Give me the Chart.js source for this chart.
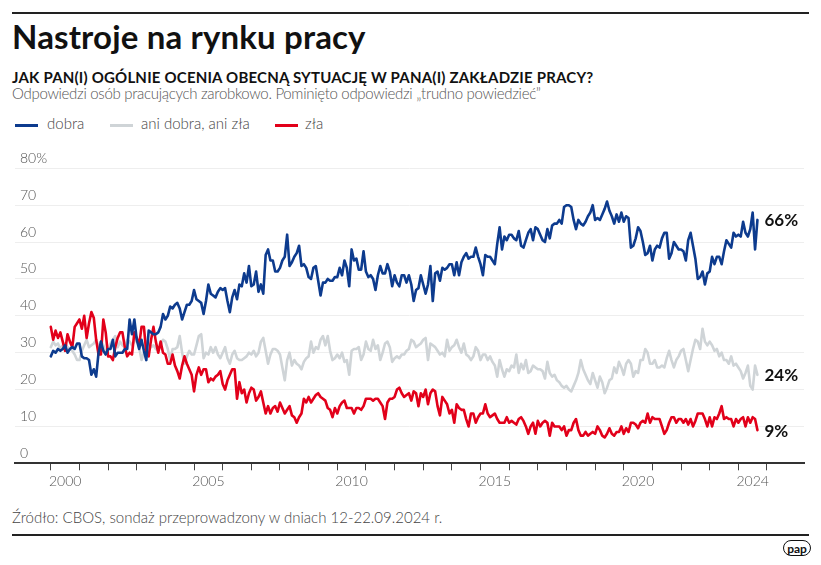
<!DOCTYPE html>
<html lang="pl">
<head>
<meta charset="utf-8">
<script src="https://cdn.jsdelivr.net/npm/chart.js@4.4.1/dist/chart.umd.min.js"></script>
<style>
body { margin:0; width:821px; height:565px; background:#fff; position:relative; overflow:hidden; font-family: Lato, "Noto Sans", sans-serif; color:#111; }
.abs { position:absolute; white-space:nowrap; line-height:1; }
.rule { position:absolute; left:12px; width:797px; height:2px; background:#222; }
#title { left:12px; top:20px; font-size:33px; font-weight:700; letter-spacing:0.15px; }
#subtitle { left:12px; top:70px; font-size:15px; font-weight:700; letter-spacing:0.2px; }
#desc { left:12px; top:86px; font-size:15px; font-weight:300; color:#555; letter-spacing:-0.3px; }
.leg { position:absolute; top:124px; width:23px; height:3px; }
.legtxt { top:116px; font-size:15px; font-weight:300; color:#444; }
#source { left:12px; top:510px; font-size:15px; font-weight:300; color:#444; }
#pap { position:absolute; left:783px; top:540px; width:28px; height:16px; border:1.5px solid #111; border-radius:9px; font:700 12px Lato, sans-serif; text-align:center; line-height:15px; box-sizing:border-box; }
#wrap { position:absolute; left:0; top:140px; width:821px; height:360px; }
</style>
</head>
<body>
<div class="rule" style="top:12px"></div>
<div id="title" class="abs">Nastroje na rynku pracy</div>
<div id="subtitle" class="abs">JAK PAN(I) OGÓLNIE OCENIA OBECNĄ SYTUACJĘ W PANA(I) ZAKŁADZIE PRACY?</div>
<div id="desc" class="abs">Odpowiedzi osób pracujących zarobkowo. Pominięto odpowiedzi „trudno powiedzieć”</div>
<div class="leg" style="left:15px;background:#0d3b8e"></div>
<div class="abs legtxt" style="left:47px">dobra</div>
<div class="leg" style="left:110px;background:#cfd4d7"></div>
<div class="abs legtxt" style="left:141px">ani dobra, ani zła</div>
<div class="leg" style="left:275px;background:#e2001a"></div>
<div class="abs legtxt" style="left:305px">zła</div>
<div id="wrap"><canvas id="chart" width="821" height="360"></canvas></div>
<div id="source" class="abs">Źródło: CBOS, sondaż przeprowadzony w dniach 12-22.09.2024 r.</div>
<div class="rule" style="top:534px"></div>
<div id="pap">pap</div>
<script>
// monthly CBOS readings, Jan 2000 .. Sep 2024
const startYear = 2000;

const dobra = [
  29, 30.5, 30, 31, 30.5, 31, 32, 30, 31, 31.5, 31, 32.5,
  32.5, 29, 28.5, 28.5, 28, 24, 25.5, 23.5, 30, 33, 30.5, 29.5,
  31, 31, 33.5, 29, 30, 30, 30, 31, 31, 39, 35, 39,
  33.5, 31, 33.5, 30.5, 28, 36, 35.5, 35, 35, 35.5, 37, 40.5,
  39, 40, 42.5, 42, 43, 43.5, 42, 39, 41, 43, 43, 44,
  47, 44.5, 44, 43.5, 40.5, 44, 48.5, 46, 45.5, 45, 46.5, 47.5,
  47, 47.5, 44, 41, 45, 47, 44.5, 48.5, 48, 51.5, 49, 53.5,
  48, 48.5, 52, 46.5, 48.5, 46, 56.5, 58, 55, 55, 52, 52,
  53, 55, 56, 62, 53.5, 54.5, 56, 57, 59, 53.5, 54, 53,
  50.5, 50, 53, 53.5, 49.5, 45.5, 49, 49, 50, 49.5, 49.5, 50.5,
  50.5, 53, 51, 55, 53, 48, 58, 55, 55.5, 52.5, 52.5, 57.5,
  52, 50.5, 51, 50, 47, 51, 53.5, 51.5, 51.5, 54, 52, 48,
  51, 49, 48, 51, 51, 49, 51, 48.5, 44, 47, 47.5, 51,
  48.5, 46, 48.5, 53.5, 44, 51.5, 52, 49.5, 53, 52.5, 53, 54,
  54, 51, 54.5, 51, 54.5, 56, 57, 55.5, 56, 56, 58.5, 56,
  54, 51, 56.5, 56, 56, 55, 54, 59.5, 64, 58, 61.5, 60.5,
  62, 62, 61, 60.5, 63, 59, 58.5, 60.5, 62.5, 63.5, 60.5, 64,
  63.5, 62, 60.5, 60, 63.5, 61, 64.5, 65, 65, 66, 65, 69.5,
  70, 70, 69.5, 66, 63.5, 66, 65, 64.5, 65.5, 67, 68, 70,
  66, 66.5, 66, 67.5, 69, 71, 68.5, 67, 65, 67.5, 65.5, 68,
  65.5, 67, 66.5, 58.5, 59, 61, 64, 63, 60, 56.5, 57, 59,
  55, 58, 59, 58.5, 61, 62.5, 62.5, 55.5, 57, 60, 59, 58,
  58, 57.5, 55, 60.5, 62.5, 59, 55.5, 50, 50.5, 52, 48.5, 51.5,
  52, 56, 54, 56, 56, 54, 57.5, 60.5, 59.5, 58.5, 62.5, 61.5,
  62, 61.5, 65.5, 62.5, 61.5, 63.5, 68, 58, 66
];

const aniDobraAniZla = [
  31.5, 33, 32, 32.5, 31, 32, 32.5, 31.5, 31, 30.5, 29.5, 28,
  28, 30.5, 32, 33.5, 31.5, 32, 32.5, 33.5, 31.5, 33, 32, 30,
  31, 32.5, 33.5, 34.5, 31.5, 33, 32, 31.5, 33.5, 33, 32, 33,
  33.5, 31.5, 28, 30, 33, 32.5, 31.5, 32, 31, 30.5, 32, 33.5,
  33, 31, 28, 31, 31, 31.5, 34.5, 30, 27, 29, 30.5, 29.5,
  29.5, 32, 34.5, 35, 28.5, 30, 29.5, 31.5, 30, 31.5, 29.5, 28.5,
  30, 31.5, 28.5, 27, 29.5, 30.5, 28.5, 28, 28, 28.5, 29, 30,
  29.5, 30.5, 29, 30, 33, 34, 30.5, 27, 29.5, 31, 31, 30.5,
  29.5, 26, 22.5, 28, 30, 26.5, 28, 27, 26.5, 25.5, 27.5, 28.5,
  29, 33, 30, 31.5, 31, 33.5, 34.5, 32, 34.5, 30.5, 28, 28.5,
  29.5, 28.5, 30, 27.5, 28, 24, 30.5, 31, 31, 31.5, 28, 29.5,
  33, 31, 30.5, 33.5, 31, 32, 28, 30, 32.5, 33, 31.5, 27.5,
  28.5, 29, 28.5, 29.5, 29.5, 30.5, 31, 33.5, 33, 31.5, 32, 32.5,
  33.5, 34, 28, 32.5, 32, 31.5, 30.5, 29.5, 30, 29, 33.5, 30.5,
  31.5, 32, 33.5, 31.5, 30, 32.5, 29.5, 29, 28, 29, 31.5, 30.5,
  28, 29.5, 29.5, 28, 29, 27.5, 26.5, 23.5, 28, 25.5, 23.5, 25.5,
  25, 26.5, 26, 29.5, 24.5, 27, 25.5, 28, 24.5, 25, 26.5, 26,
  25.5, 25.5, 25, 23, 27.5, 24.5, 23.5, 24, 22.5, 22, 21, 20.5,
  21, 20, 19.5, 21, 22.5, 24.5, 28, 25.5, 24, 22.5, 21.5, 24.5,
  22.5, 20.5, 23.5, 22, 19, 20.5, 22.5, 23, 26, 24.5, 27.5, 26,
  24, 27, 28, 27, 23.5, 25, 24.5, 28, 28, 31, 30, 27,
  27, 28, 26, 26, 26.5, 26, 28.5, 30.5, 28, 26, 28, 29,
  30.5, 31, 28, 25, 28, 31, 33.5, 33, 31, 36.5, 33, 32,
  33, 32, 30.5, 31, 29, 30, 28, 28, 27, 29, 26.5, 27,
  26, 25, 23, 24.5, 26.5, 21, 20, 26.5, 24
];

const zla = [
  37, 33.5, 36, 34, 35.5, 33, 30.5, 35, 33, 31.5, 37, 38,
  39, 36.5, 40, 34, 38, 41, 39.5, 33.5, 29.5, 29.5, 39, 35.5,
  29, 29, 28, 31.5, 34, 35.5, 35.5, 31.5, 29, 30, 29.5, 35.5,
  34, 32, 37, 37, 30, 29, 33.5, 37, 33, 30, 33, 30,
  29.5, 27, 27, 29.5, 26.5, 25, 23, 26.5, 29, 27, 25.5, 24,
  19.5, 24, 26, 24, 25.5, 25.5, 22, 23, 22.5, 23.5, 24, 25,
  21.5, 20, 22.5, 24, 25.5, 25.5, 17.5, 22, 19, 20, 16.5, 19,
  20.5, 20, 17, 18, 19.5, 16.5, 13.5, 15.5, 13.5, 15, 15.5, 14,
  16.5, 15, 13.5, 14.5, 15.5, 13, 12.5, 11, 12.5, 13.5, 17.5, 16.5,
  18, 16.5, 17.5, 18.5, 19, 18, 17.5, 17, 15, 14.5, 12.5, 15,
  13.5, 15.5, 16.5, 17, 15, 15, 15, 13.5, 15, 15, 14.5, 15.5,
  17.5, 17.5, 17.5, 17, 17.5, 17.5, 16.5, 15.5, 12, 16.5, 17.5, 17.5,
  18, 20, 20.5, 19, 18, 18.5, 19, 17, 19.5, 19, 15.5, 19,
  18, 20, 16, 19, 20, 19.5, 15.5, 13, 18, 17, 16, 13.5,
  14.5, 11, 16, 15, 14.5, 14.5, 12, 10, 13.5, 13.5, 11, 12.5,
  13.5, 13.5, 16, 13.5, 12.5, 13, 13.5, 12, 11, 11, 11, 12.5,
  11, 11.5, 11, 10.5, 12, 12.5, 11.5, 10, 8, 10, 11, 8,
  11.5, 10, 11, 11.5, 11, 7.5, 11, 10, 10, 10, 9, 10,
  7.5, 9, 9, 11, 12, 9, 7.5, 7.5, 8.5, 7.5, 8, 8.5,
  8, 10, 9, 7.5, 7, 8, 9.5, 8, 7.5, 8.5, 8.5, 10,
  8, 9.5, 8.5, 11, 11, 10.5, 9.5, 11, 11.5, 11, 13.5, 11,
  12.5, 12, 12, 12, 10, 8, 9, 11, 12.5, 12.5, 11, 12,
  12, 11, 12, 10.5, 12, 10, 11.5, 13.5, 13.5, 13.5, 12, 10,
  12.5, 10, 12.5, 12, 13.5, 15.5, 12, 12.5, 12, 12, 10, 12,
  11, 12, 12.5, 10, 12.5, 11, 12.5, 12, 9
];

const seriesNames = ['dobra', 'zła', 'ani dobra, ani zła'];
const seriesColors = ['#0d3b8e', '#e2001a', '#cfd4d7'];
const yearLabels = [2000, 2005, 2010, 2015, 2020, 2024];
const yTicks = [0, 10, 20, 30, 40, 50, 60, 70, 80];

const fontFamily = 'Lato, "Noto Sans", sans-serif';

function toPoints(arr) {
  return arr.map((v, i) => ({ x: startYear + i / 12, y: v }));
}

// year captions sit in the middle of each year, between the tick marks
const yearCaptions = {
  id: 'yearCaptions',
  afterDraw(chart) {
    const ctx = chart.ctx;
    const xs = chart.scales.x;
    ctx.save();
    ctx.font = '300 14px ' + fontFamily;
    ctx.fillStyle = '#555';
    ctx.textAlign = 'center';
    ctx.textBaseline = 'middle';
    yearLabels.forEach(y => {
      ctx.fillText(String(y), xs.getPixelForValue(y + 0.5), chart.chartArea.bottom + 18);
    });
    ctx.restore();
  }
};

const endLabels = {
  id: 'endLabels',
  afterDatasetsDraw(chart) {
    const ctx = chart.ctx;
    ctx.save();
    ctx.font = '700 17px ' + fontFamily;
    ctx.fillStyle = '#111';
    ctx.textBaseline = 'middle';
    chart.data.datasets.forEach((ds, i) => {
      const meta = chart.getDatasetMeta(i);
      const pt = meta.data[meta.data.length - 1];
      const val = ds.data[ds.data.length - 1].y;
      ctx.fillText(Math.round(val) + '%', pt.x + 7, pt.y + 1);
    });
    ctx.restore();
  }
};

new Chart(document.getElementById('chart'), {
  type: 'line',
  data: {
    datasets: [
      { label: seriesNames[0], data: toPoints(dobra), borderColor: seriesColors[0] },
      { label: seriesNames[1], data: toPoints(zla), borderColor: seriesColors[1] },
      { label: seriesNames[2], data: toPoints(aniDobraAniZla), borderColor: seriesColors[2] }
    ]
  },
  options: {
    responsive: false,
    animation: false,
    devicePixelRatio: 1,
    layout: { padding: { left: 15, right: 17, top: 28.3, bottom: 0 } },
    elements: {
      line: { borderWidth: 2.6, tension: 0, borderJoinStyle: 'round', borderCapStyle: 'round' },
      point: { radius: 0, hoverRadius: 0 }
    },
    plugins: { legend: { display: false }, tooltip: { enabled: false } },
    scales: {
      x: {
        type: 'linear',
        min: startYear - 15 / 12,
        max: startYear + 315.5 / 12,
        afterBuildTicks: s => {
          s.ticks = [];
          for (let y = 2000; y <= 2025; y++) s.ticks.push({ value: y });
        },
        afterFit: s => { s.height = 36.7; },
        ticks: { display: false },
        grid: { drawOnChartArea: false, drawTicks: true, tickLength: 7, tickColor: '#444', tickWidth: 1 },
        border: { display: true, color: '#333', width: 2 }
      },
      y: {
        min: 0,
        max: 80,
        afterBuildTicks: s => { s.ticks = yTicks.map(v => ({ value: v })); },
        afterFit: s => { s.width = 0; },
        ticks: {
          mirror: true,
          padding: 5,
          labelOffset: -10,
          color: '#555',
          font: { family: fontFamily, size: 14, weight: '300' },
          callback: v => v === 80 ? '80%' : String(v)
        },
        grid: { color: '#eeeeee', lineWidth: 1, drawTicks: false },
        border: { display: false }
      }
    }
  },
  plugins: [yearCaptions, endLabels]
});
</script>
</body>
</html>
